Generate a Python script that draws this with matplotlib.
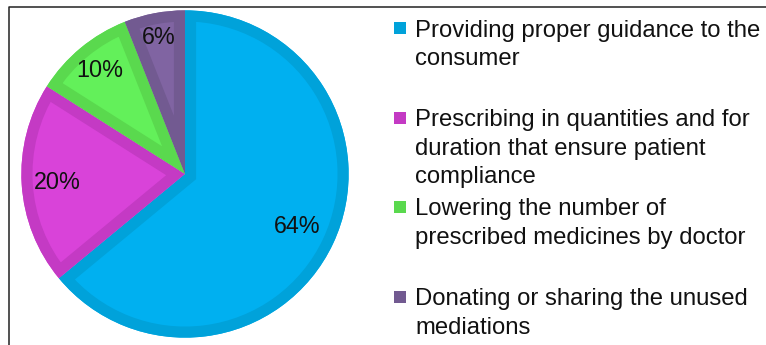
import matplotlib
matplotlib.use("Agg")
import matplotlib.pyplot as plt
from matplotlib.lines import Line2D
from matplotlib.patches import Rectangle, Wedge

# Shares of respondents for each suggested measure
categories = [
    "Providing proper guidance to the\nconsumer",
    "Prescribing in quantities and for\nduration that ensure patient\ncompliance",
    "Lowering the number of\nprescribed medicines by doctor",
    "Donating or sharing the unused\nmediations",
]
shares = [64, 20, 10, 6]

fill_colors = ["#00B0F0", "#D943D9", "#63F05A", "#8064A2"]
edge_colors = ["#00A2DA", "#C43AC4", "#5AD94E", "#725A91"]
# how far out (fraction of radius) each percentage label sits
label_radius = [0.76, 0.78, 0.82, 0.85]

W, H = 766, 345
plt.rcParams["font.family"] = ["Liberation Sans", "DejaVu Sans"]

fig = plt.figure(figsize=(W / 100, H / 100), dpi=100)


def px(x, y):
    """Pixel position (from top-left) to figure fraction."""
    return x / W, 1 - y / H


# -------------------------------
# Outer frame (left and top edges)
# -------------------------------
fig.add_artist(Line2D([9 / W, 9 / W, 1], [0, 1 - 7 / H, 1 - 7 / H],
                      transform=fig.transFigure, color="#222222", lw=1.1))

# -------------------------------
# Pie
# -------------------------------
cx, cy, half = 185, 174, 180
ax = fig.add_axes([(cx - half) / W, (H - cy - half) / H, 2 * half / W, 2 * half / H])

pct_dist = 0.8
wedges, _, pct_texts = ax.pie(
    shares, colors=fill_colors, startangle=90, counterclock=False,
    radius=1.0, autopct="%d%%", pctdistance=pct_dist,
    textprops=dict(fontsize=16.8, color="#111111", zorder=5),
    wedgeprops=dict(linewidth=0),
)
# pie() sets its own limits, so fix them afterwards (box is already square)
ax.set_aspect("auto")
ax.set_xlim(-1.1, 1.1)
ax.set_ylim(-1.1, 1.1)
ax.axis("off")

# nudge each label along its own radius
for t, r in zip(pct_texts, label_radius):
    x, y = t.get_position()
    t.set_position((x * r / pct_dist, y * r / pct_dist))

# Border on the inside of each slice: a wide outline clipped to its slice
for w, ec in zip(wedges, edge_colors):
    rim = Wedge(w.center, w.r, w.theta1, w.theta2, fill=False,
                edgecolor=ec, linewidth=16, zorder=w.get_zorder() + 0.5)
    ax.add_patch(rim)
    rim.set_clip_path(w)

# -------------------------------
# Legend (drawn by hand, fixed slots)
# -------------------------------
text_x = 415
box_x = 394
box_size = 12
first_base = 36.5
slot = 89.5
line_gap = 28.7

for i, (label, color) in enumerate(zip(categories, edge_colors)):
    base = first_base + i * slot
    x0, y0 = px(box_x, base - 2.5)
    fig.add_artist(Rectangle((x0, y0), box_size / W, box_size / H,
                             transform=fig.transFigure, facecolor=color,
                             edgecolor="none"))
    for j, line in enumerate(label.split("\n")):
        tx, ty = px(text_x, base + j * line_gap)
        fig.text(tx, ty, line, fontsize=17.2, color="#111111",
                 ha="left", va="baseline")

fig.savefig("out.png", dpi=100, facecolor="white")
